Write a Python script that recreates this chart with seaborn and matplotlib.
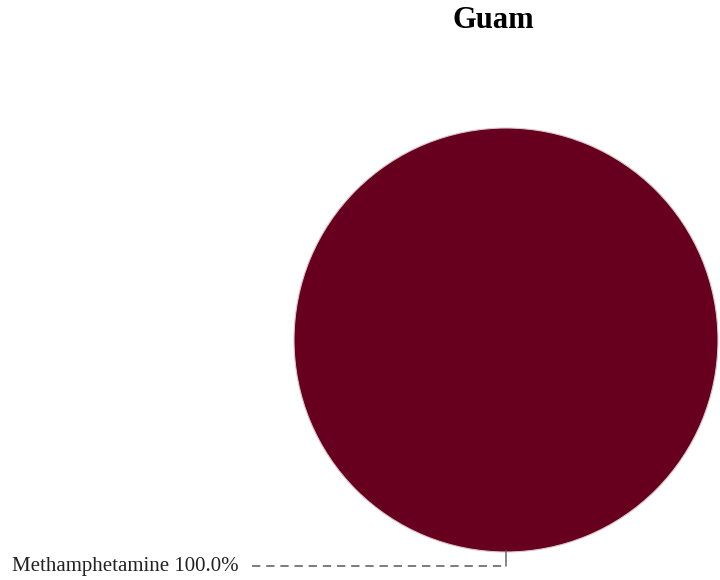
import numpy as np
import matplotlib.pyplot as plt
import seaborn as sns

# data
title = "Guam"
categories = ["Methamphetamine"]
values = [100.0]
colors = ["#67001f"]

sns.set_theme(style="white")
plt.rcParams['font.family'] = ['Liberation Serif', 'DejaVu Serif']

W, H = 720, 580
fig = plt.figure(figsize=(7.2, 5.8), dpi=100)
ax = fig.add_axes([0, 0, 1, 1])
ax.set_aspect('equal')

cx, cy, r = 506, 240, 212
wedges, _ = ax.pie(values, colors=colors, center=(cx, cy), radius=r,
                   startangle=270, counterclock=False, frame=True,
                   wedgeprops=dict(edgecolor='#d9c6cb', linewidth=0.8))
ax.set_xlim(0, W)
ax.set_ylim(0, H)
ax.axis('off')

total = sum(values)
for w, cat, v in zip(wedges, categories, values):
    ang = np.deg2rad((w.theta1 + w.theta2) / 2)
    if v >= total:
        ang = np.deg2rad(270)
    px, py = cx + r * np.cos(ang), cy + r * np.sin(ang)
    ly = 14
    ax.plot([px, px], [py + 1, ly], color='#666666', lw=1.1)
    ax.plot([252, px], [ly, ly], color='#666666', lw=1.2, ls=(0, (5, 3.5)))
    ax.text(12, ly, f"{cat} {v / total * 100:.1f}%", fontsize=15,
            ha='left', va='center', color='#222222')

ax.text(493, 559, title, fontsize=22, fontweight='bold', ha='center',
        va='center', color='black')

fig.savefig("out.png", dpi=100)
